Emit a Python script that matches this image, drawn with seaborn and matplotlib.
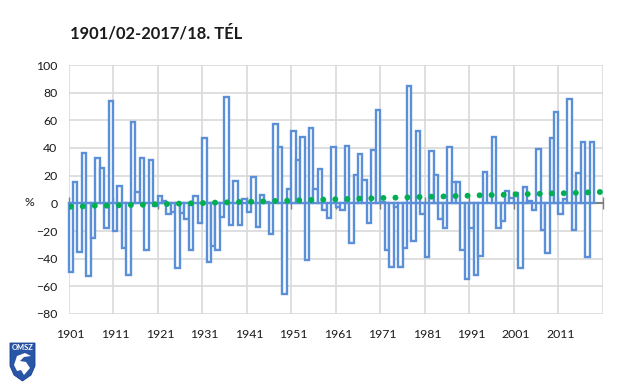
import numpy as np
import pandas as pd
import matplotlib
matplotlib.use("Agg")
import matplotlib.pyplot as plt
from matplotlib.patches import Polygon
import seaborn as sns

TITLE = "1901/02-2017/18. TÉL"
first_year = 1901
values = [
    -49.4, 15.7, -35.4, 36.6, -52.3, -24.8, 32.5, 25.3, -17.6, 74.2,
    -19.8, 12.3, -32, -51.6, 58.5, 8, 33, -33.5, 31.5, -2,
    5, 2, -8, -6, -46.5, -7, -11, -34, 5, -14,
    47.5, -42.5, -30.5, -33.5, -10, 76.6, -16, 16, -15.4, 3.4,
    -6, 19.3, -17, 6, 1, -22, 57, 41, -65.5, 10.6,
    52, 31, 48, -40.7, 54.7, 10.6, 25, -4.6, -10.4, 41,
    -2.4, -4.6, 41.7, -28.4, 20.7, 36, 17, -14, 38.8, 67.7,
    1, -33.5, -45.8, -2.4, -45.8, -32, 85, -27, 52, -8,
    -38.5, 38, 20.7, -11, -17.6, 41, 15.7, 15.7, -33.5, -55,
    -18, -51.6, -38, 23, 0.5, 48, -18, -12.5, 9, 4,
    7.7, -46.5, 12, 2, -5, 39.5, -19, -35.7, 47.5, 66,
    -8, 3.4, 75.7, -19, 22, 44, -39, 44,
]
trend = [
    -2.4, -2.2, -1.7, -1.7, -1.4, -1.2, -1, -0.7, -0.5, -0.2, 0, 0.2, 0.5,
    0.7, 1, 1.2, 1.4, 1.7, 1.9, 2.2, 2.4, 2.7, 2.9, 3.1, 3.4, 3.6, 3.9, 4.1, 4.3, 4.6, 4.8,
    5.0, 5.3, 5.5, 5.8, 6.0, 6.2, 6.5, 6.7, 6.9, 7.2, 7.3, 7.6, 7.9, 8.2, 8.4,
][:45]
y_ticks = [-80, -60, -40, -20, 0, 20, 40, 60, 80, 100]
slots = 120
trend_step = 2.7

BLUE = "#5B8FD8"
GREEN = "#00B050"
GRID = "#D9D9D9"
AXIS = "#808080"
INK = "#1a1a1a"

sns.set_theme(style="white")
plt.rcParams["font.family"] = ["Lato", "DejaVu Sans"]

years = [first_year + i for i in range(len(values))]
df = pd.DataFrame({"year": years, "value": values})
dots = pd.DataFrame({"pos": np.arange(len(trend)) * trend_step, "value": trend})

fig = plt.figure(figsize=(6.4, 3.84), dpi=100, facecolor="white")
ax = fig.add_axes([68.5 / 640, 1 - 314 / 384, (603 - 68.5) / 640, (314 - 65) / 384])

sns.barplot(data=df, x="year", y="value", order=years, ax=ax, width=1.0, gap=0,
            color="white", edgecolor=BLUE, linewidth=1.7, saturation=1,
            errorbar=None, zorder=3)
for p in ax.patches:
    p.set_clip_on(False)
sns.scatterplot(data=dots, x="pos", y="value", ax=ax, color=GREEN, s=18,
                edgecolor="none", zorder=4, legend=False)

ax.set_xlim(-0.5, slots - 0.5)
ax.set_ylim(-80, 100)
ax.set_xlabel("")
ax.set_ylabel("")

edges = np.arange(0, slots + 1, 10) - 0.5
ax.set_xticks(edges)
ax.set_xticklabels([])
ax.set_yticks(y_ticks)
ax.set_axisbelow(True)
ax.grid(True, color=GRID, linewidth=1.2)
for s in ("top", "left", "right"):
    ax.spines[s].set_visible(False)
ax.spines["bottom"].set_position(("data", 0))
ax.spines["bottom"].set_color(AXIS)
ax.spines["bottom"].set_linewidth(1.5)
ax.spines["bottom"].set_zorder(2)
ax.tick_params(axis="x", direction="inout", length=8, width=1, color=AXIS, bottom=True)
ax.tick_params(axis="y", length=0, pad=8, labelsize=8.8, labelcolor=INK)

sec = ax.secondary_xaxis("bottom")
sec.set_xticks(np.arange(0, slots, 10))
sec.set_xticklabels([str(first_year + i) for i in range(0, slots, 10)])
sec.tick_params(length=0, pad=11, labelsize=8.8, labelcolor=INK)
sec.spines["bottom"].set_visible(False)

fig.text(70 / 640, 1 - 33 / 384, TITLE, fontsize=11.9, fontweight="bold", color=INK, va="center", ha="left")
fig.text(29 / 640, 1 - 203 / 384, "%", fontsize=8.8, color=INK, va="center", ha="center")

# OMSZ shield
def fx(p): return p / 640
def fy(p): return 1 - p / 384
shield = [(10, 343), (35, 343), (35, 366), (31, 375), (22.5, 381), (14, 375), (10, 366)]
fig.add_artist(Polygon([(fx(a), fy(b)) for a, b in shield], closed=True,
                       transform=fig.transFigure, facecolor="#2A56A8", edgecolor="#1C3F8C", linewidth=0.6))
fig.text(fx(22.5), fy(347.5), "OMSZ", fontsize=5.4, fontweight="bold", color="white", ha="center", va="center")
fig.add_artist(Polygon([(fx(a), fy(b)) for a, b in
                        [(14, 365), (17, 356), (25, 353), (31, 356), (24, 357), (20, 361), (26, 362), (30, 368), (24, 375), (21, 370), (17, 371)]],
                       closed=True, transform=fig.transFigure, facecolor="white", edgecolor="none"))

fig.savefig("out.png", dpi=100, facecolor="white")
